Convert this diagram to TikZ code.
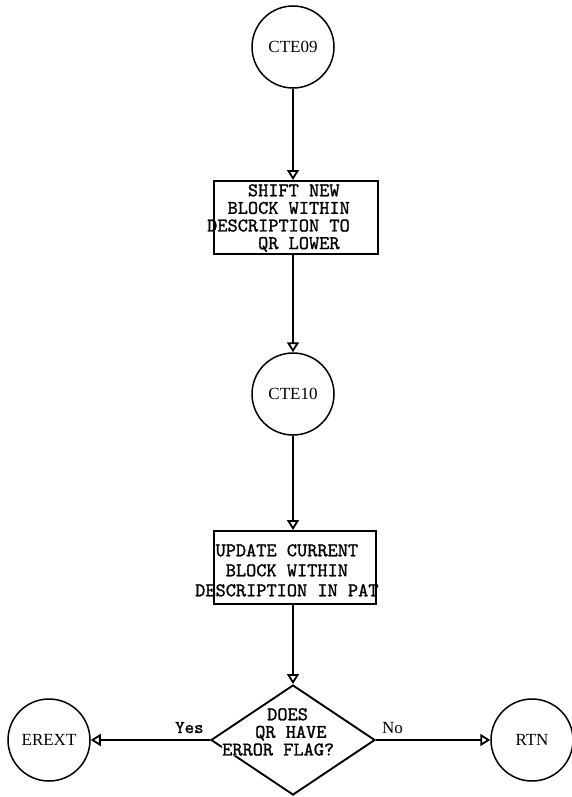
\documentclass[tikz,border=0pt]{standalone}
\usepackage{fontspec}
\newfontfamily\cserif{Liberation Serif}
\newfontfamily\tw{lmmono10-regular.otf}[FakeBold=1.2]
\usetikzlibrary{arrows.meta,shapes.geometric}
\newlength\chw
\setlength\chw{10.185pt}
\newcommand\firstln{\rule{0pt}{12pt}}
\begin{document}
\begin{tikzpicture}[x=1pt,y=-1pt,
 ln/.style={line width=2.1pt, -{Triangle[open,length=10pt,width=12pt,line width=1.8pt]}},
 circ/.style={circle,draw,line width=1.5pt,minimum size=82pt,inner sep=0pt,font=\fontsize{17}{20}\cserif},
 boxn/.style={rectangle,draw,line width=1.9pt,inner sep=0pt,anchor=north west},
 txm/.style={inner sep=0pt,anchor=north west,align=left},
 lab/.style={inner sep=0pt,anchor=base west},
]
\useasboundingbox (0,0) rectangle (572,797);

% circles
\node[circ] (c1) at (293,47) {CTE09};
\node[circ] (c2) at (293,394) {CTE10};
\node[circ] (e) at (49,740) {EREXT};
\node[circ] (r) at (532,740) {RTN};

% boxes
\node[boxn, minimum width=164pt, minimum height=73pt] (b1) at (213,180) {};
\node[boxn, minimum width=162pt, minimum height=73pt] (b2) at (213,530) {};

% box texts
\node[txm, font=\fontsize{19.4}{17.6}\tw] (b1t) at (207,184) {\firstln\hspace*{4\chw}SHIFT NEW\\\hspace*{2\chw}BLOCK WITHIN\\DESCRIPTION TO\\\hspace*{5\chw}QR LOWER};

\node[txm, font=\fontsize{19.4}{20}\tw] (b2t) at (195,544) {\firstln\hspace*{2\chw}UPDATE CURRENT\\\hspace*{3\chw}BLOCK WITHIN\\DESCRIPTION IN PAT};

% decision
\node[diamond,draw,line width=1.9pt,inner sep=0pt,minimum width=164pt,minimum height=110pt] (d) at (293,740) {};
\node[txm, font=\fontsize{19.4}{17.6}\tw] (dt) at (222,708) {\firstln\hspace*{45pt}DOES\\\hspace*{33pt}QR HAVE\\{\setlength\fboxsep{0pt}\colorbox{white}{ERROR FLAG?}}};

% connectors
\draw[ln] (c1.south) -- (c1.south |- b1.north);
\draw[ln] (c1 |- b1.south) -- (c2.north);
\draw[ln] (c2.south) -- (c2.south |- b2.north);
\draw[ln] (c2 |- b2.south) -- (d.north);
\draw[ln] (d.west) -- (e.east);
\draw[ln] (d.east) -- (r.west);

% labels
\node[lab,font=\fontsize{18}{20}\tw] (yes) at (175,733) {Yes};
\node[lab,font=\fontsize{17}{20}\cserif] (no) at (382,733) {No};
\end{tikzpicture}
\end{document}
